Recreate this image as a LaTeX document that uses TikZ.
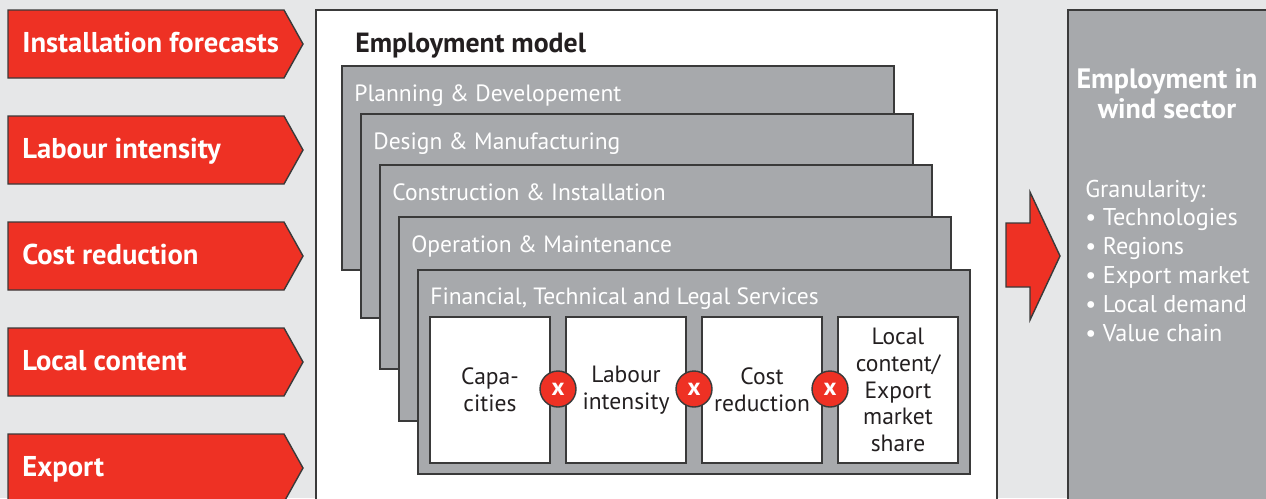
\documentclass[tikz,border=0pt]{standalone}
\usepackage{fontspec}
\setmainfont{PT Sans}
\usetikzlibrary{positioning}

\definecolor{bggrey}{HTML}{E6E7E8}
\definecolor{midgrey}{HTML}{A7A9AC}
\definecolor{edgegrey}{HTML}{3A3A3A}
\definecolor{windred}{HTML}{EE3124}
\definecolor{ink}{HTML}{231F20}

\begin{document}
\begin{tikzpicture}[x=0.02cm, y=-0.02cm,
    inarrow/.style={draw=edgegrey, fill=windred, line width=0.8pt},
    intext/.style={anchor=base west, inner sep=0pt, text=white, font=\fontsize{16.3}{18}\selectfont\bfseries},
    panel/.style={draw=edgegrey, line width=0.8pt},
    layer/.style={draw=edgegrey, fill=midgrey, line width=0.8pt},
    layertext/.style={anchor=base west, inner sep=0pt, text=white, font=\fontsize{13.4}{16}\selectfont},
    factor/.style={draw=edgegrey, fill=white, line width=0.8pt, minimum width=2.4cm, minimum height=2.92cm,
        align=center, text=ink, font=\fontsize{13.4}{15.3}\selectfont},
    times/.style={circle, draw=edgegrey, fill=windred, line width=0.8pt, minimum size=0.72cm, inner sep=0pt,
        text=white, font=\fontsize{14}{14}\selectfont\bfseries},
    listtext/.style={anchor=base west, inner sep=0pt, text=white, font=\fontsize{13.8}{15}\selectfont}]

    \useasboundingbox (0,0) rectangle (1266,498);
    \clip (0,0) rectangle (1266,498);
    \fill[bggrey] (0,0) rectangle (1266,498);

    % input drivers on the left
    \foreach \lbl [count=\i] in {Installation forecasts, Labour intensity, Cost reduction, Local content, Export} {
        \pgfmathsetmacro\top{10+106*(\i-1)}
        \draw[inarrow] (8,\top) -- (284,\top) -- (303,\top+34) -- (284,\top+68) -- (8,\top+68) -- cycle;
        \node[intext] (in\i) at (22,\top+42) {\lbl};
    }

    % model panel
    \draw[panel, fill=white] (316,10) rectangle (997,530);
    \node[anchor=base west, inner sep=0pt, text=ink, font=\fontsize{15.8}{18}\selectfont\bfseries] (model) at (355,52) {Employment model};

    % value chain layers, each one shifted down and right
    \draw[layer] (342,66) rectangle +(552,204);
    \node[layertext] (pd) at (354,101) {Planning \& Developement};
    \draw[layer] (361,114) rectangle +(552,204);
    \node[layertext] (dm) at (373,149) {Design \& Manufacturing};
    \draw[layer] (380,165) rectangle +(552,204);
    \node[layertext] (ci) at (392,200) {Construction \& Installation};
    \draw[layer] (399,217) rectangle +(552,204);
    \node[layertext] (om) at (411,252) {Operation \& Maintenance};
    \draw[layer] (418,270) rectangle +(552,204);
    \node[layertext] (ftl) at (430,304) {Financial, Technical and Legal Services};

    % factors multiplied together
    \node[factor] (cap) at (490,390) {Capa-\\cities};
    \node[factor] (lab) at (626,390) {Labour\\intensity};
    \node[factor] (cost) at (762,390) {Cost\\reduction};
    \node[factor] (loc) at (898,390) {Local\\content/\\Export\\market\\share};
    \node[times] (x1) at (558,389) {x};
    \node[times] (x2) at (694,389) {x};
    \node[times] (x3) at (830,389) {x};

    % result
    \draw[inarrow] (1006,223) -- (1030,223) -- (1030,192) -- (1060,256) -- (1030,320) -- (1030,287) -- (1006,287) -- cycle;
    \draw[layer] (1068,10) rectangle (1290,530);
    \node[align=center, text=white, font=\fontsize{16}{17}\selectfont\bfseries] (out) at (1167,94) {Employment in\\wind sector};
    \foreach \item [count=\i from 0] in {Granularity:, \textbullet\ Technologies, \textbullet\ Regions,
            \textbullet\ Export market, \textbullet\ Local demand, \textbullet\ Value chain} {
        \node[listtext] (gr\i) at (1085,197+28.8*\i) {\item};
    }
\end{tikzpicture}
\end{document}
